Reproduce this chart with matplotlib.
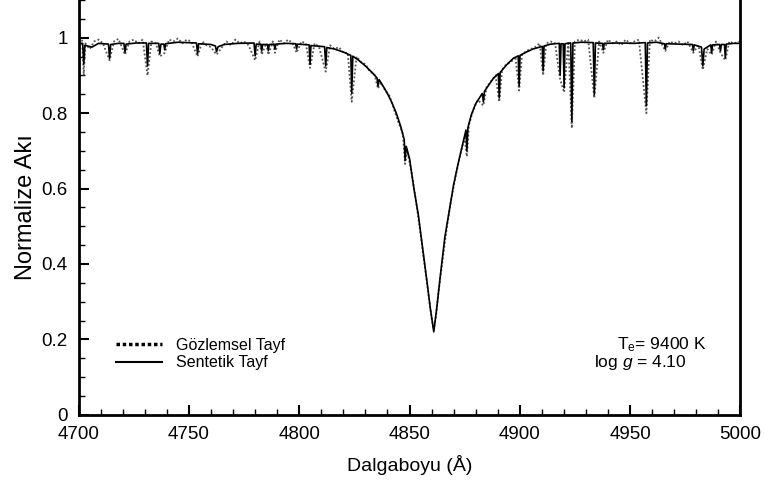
import matplotlib
matplotlib.use('Agg')
import matplotlib.pyplot as plt
from matplotlib.ticker import MultipleLocator

plt.rcParams['font.family'] = ['Liberation Sans', 'DejaVu Sans']
plt.rcParams['mathtext.fontset'] = 'custom'
plt.rcParams['mathtext.rm'] = 'Liberation Sans'
plt.rcParams['mathtext.it'] = 'Liberation Sans:italic'

# synthetic spectrum (wavelength in A, normalized flux)
wl_syn = [4700.0, 4701.8, 4702.3, 4702.8, 4706, 4709, 4713.5, 4714.0, 4714.5, 4718,
          4720.5, 4721.0, 4721.5, 4726, 4730.7, 4731.2, 4731.7, 4736.3, 4736.8, 4737.3,
          4738.6, 4739.0, 4739.4, 4745, 4753.4, 4753.9, 4754.4, 4760, 4762.0, 4762.5,
          4763.2, 4766, 4772, 4779.5, 4780.0, 4780.5, 4782.6, 4783.0, 4783.4, 4785.6,
          4786.0, 4786.4, 4788.6, 4789.0, 4789.4, 4794, 4798.4, 4798.8, 4799.2, 4802,
          4804.5, 4804.9, 4805.3, 4808, 4811.5, 4812.0, 4812.5, 4816, 4820, 4823.4,
          4823.8, 4824.3, 4827, 4830, 4833, 4835.3, 4835.7, 4836.2, 4838, 4840,
          4842, 4844, 4846, 4847.6, 4848.0, 4848.5, 4850, 4852, 4854, 4856,
          4858, 4859.5, 4861.0, 4862.5, 4864, 4866, 4868, 4870, 4872, 4874,
          4875.6, 4876.0, 4876.5, 4878, 4880, 4883.0, 4883.5, 4884.0, 4886, 4888,
          4890.3, 4890.7, 4891.1, 4894, 4897, 4899.3, 4899.7, 4900.1, 4903, 4906,
          4910.2, 4910.6, 4911.0, 4914, 4917.9, 4918.3, 4918.7, 4919.7, 4920.1, 4920.5,
          4923.1, 4923.6, 4924.1, 4928, 4933.3, 4933.8, 4934.3, 4937.5, 4937.9, 4938.3,
          4945, 4952, 4956.9, 4957.4, 4957.9, 4962, 4965.6, 4966.0, 4966.4, 4972,
          4978.3, 4978.7, 4979.1, 4982.4, 4983.0, 4983.6, 4986.6, 4987.0, 4987.4, 4990.6,
          4991.0, 4991.4, 4992.8, 4993.2, 4993.6, 4997, 5000]
flux_syn = [0.985, 0.985, 0.930, 0.980, 0.975, 0.985, 0.983, 0.945, 0.982, 0.985,
            0.985, 0.962, 0.983, 0.986, 0.986, 0.925, 0.985, 0.985, 0.958, 0.983,
            0.983, 0.968, 0.984, 0.988, 0.986, 0.958, 0.984, 0.982, 0.978, 0.963,
            0.976, 0.982, 0.985, 0.986, 0.952, 0.983, 0.983, 0.965, 0.982, 0.982,
            0.966, 0.982, 0.983, 0.970, 0.983, 0.985, 0.984, 0.970, 0.983, 0.982,
            0.981, 0.930, 0.979, 0.978, 0.976, 0.925, 0.974, 0.970, 0.962, 0.953,
            0.853, 0.951, 0.940, 0.925, 0.908, 0.893, 0.872, 0.889, 0.872, 0.852,
            0.828, 0.800, 0.765, 0.730, 0.675, 0.712, 0.680, 0.600, 0.530, 0.440,
            0.350, 0.280, 0.220, 0.290, 0.370, 0.470, 0.540, 0.610, 0.665, 0.715,
            0.755, 0.700, 0.762, 0.795, 0.825, 0.852, 0.830, 0.858, 0.875, 0.892,
            0.905, 0.840, 0.908, 0.928, 0.945, 0.952, 0.872, 0.953, 0.962, 0.970,
            0.977, 0.912, 0.978, 0.983, 0.985, 0.900, 0.984, 0.984, 0.867, 0.984,
            0.986, 0.778, 0.986, 0.988, 0.987, 0.849, 0.986, 0.985, 0.968, 0.985,
            0.986, 0.985, 0.987, 0.820, 0.986, 0.988, 0.984, 0.970, 0.984, 0.983,
            0.982, 0.965, 0.981, 0.975, 0.925, 0.970, 0.981, 0.960, 0.981, 0.982,
            0.965, 0.982, 0.982, 0.947, 0.983, 0.985, 0.985]

# observed spectrum
wl_obs = [4700, 4701.5, 4702.3, 4703, 4705, 4707, 4709, 4711, 4714, 4716,
          4718, 4721, 4723, 4725, 4727, 4729, 4731.2, 4733, 4735, 4736.8,
          4739, 4741, 4743, 4745, 4747, 4749, 4751, 4753.9, 4756, 4758,
          4760, 4762.5, 4765, 4767, 4769, 4771, 4773, 4775, 4777, 4780,
          4782, 4783, 4785, 4786, 4788, 4789, 4791, 4793, 4795, 4797,
          4798.8, 4801, 4803, 4804.9, 4807, 4809, 4812, 4814, 4816, 4818,
          4820, 4822, 4823.8, 4826, 4828, 4830, 4832, 4834, 4835.7, 4837,
          4839, 4841, 4843, 4845, 4847, 4848, 4849, 4851, 4853, 4855,
          4857, 4859, 4860.2, 4861, 4862, 4863, 4865, 4867, 4869, 4871,
          4873, 4875, 4876, 4877, 4879, 4881, 4883.5, 4885, 4887, 4889,
          4890.7, 4892, 4894, 4896, 4898, 4899.7, 4901, 4903, 4905, 4907,
          4909, 4910.6, 4912, 4914, 4916, 4918.3, 4920.1, 4922, 4923.6, 4925,
          4927, 4929, 4931, 4933.8, 4936, 4937.9, 4940, 4942, 4944, 4946,
          4948, 4950, 4952, 4954, 4957.4, 4959, 4961, 4963, 4966, 4968,
          4970, 4972, 4974, 4976, 4978.7, 4981, 4983, 4985, 4987, 4989,
          4991, 4993.2, 4995, 4997, 5000]
flux_obs = [0.990, 0.995, 0.900, 0.985, 0.970, 0.990, 0.995, 0.985, 0.940, 0.990,
            0.997, 0.955, 0.990, 0.995, 0.985, 0.995, 0.900, 0.990, 0.985, 0.950,
            0.960, 0.995, 0.990, 0.998, 0.985, 0.995, 0.990, 0.950, 0.990, 0.980,
            0.975, 0.955, 0.975, 0.990, 0.980, 0.995, 0.985, 0.990, 0.980, 0.940,
            0.990, 0.955, 0.985, 0.955, 0.990, 0.960, 0.995, 0.985, 0.995, 0.985,
            0.960, 0.990, 0.985, 0.920, 0.985, 0.975, 0.910, 0.980, 0.970, 0.975,
            0.960, 0.960, 0.830, 0.950, 0.935, 0.930, 0.910, 0.905, 0.865, 0.880,
            0.860, 0.845, 0.810, 0.775, 0.745, 0.665, 0.700, 0.640, 0.565, 0.480,
            0.390, 0.300, 0.250, 0.225, 0.260, 0.320, 0.410, 0.500, 0.575, 0.635,
            0.690, 0.735, 0.685, 0.770, 0.810, 0.835, 0.820, 0.870, 0.885, 0.900,
            0.830, 0.915, 0.930, 0.935, 0.950, 0.860, 0.955, 0.965, 0.970, 0.975,
            0.985, 0.900, 0.985, 0.990, 0.985, 0.890, 0.855, 0.990, 0.760, 0.990,
            0.995, 0.990, 0.995, 0.840, 0.990, 0.960, 0.995, 0.985, 0.990, 0.980,
            0.995, 0.985, 0.990, 0.995, 0.800, 0.995, 0.990, 1.000, 0.965, 0.990,
            0.985, 0.990, 0.980, 0.990, 0.960, 0.980, 0.915, 0.970, 0.955, 0.990,
            0.960, 0.940, 0.990, 0.985, 0.990]

fig = plt.figure(figsize=(7.64, 4.84), dpi=100)
ax = fig.add_axes([0.103, 0.143, 0.866, 0.857])

ax.plot(wl_obs, flux_obs, color='#555555', linestyle=(0, (1, 1.2)), linewidth=1.3)
ax.plot(wl_syn, flux_syn, color='black', linewidth=1.2)

ax.set_xlim(4700, 5000)
ax.set_ylim(0, 1.1)
ax.xaxis.set_major_locator(MultipleLocator(50))
ax.xaxis.set_minor_locator(MultipleLocator(10))
ax.yaxis.set_minor_locator(MultipleLocator(0.05))
ax.set_yticks([0, 0.2, 0.4, 0.6, 0.8, 1.0])
ax.set_yticklabels(['0', '0.2', '0.4', '0.6', '0.8', '1'])
ax.tick_params(which='major', direction='in', length=7, width=1.5, labelsize=13.5)
ax.tick_params(which='minor', direction='in', length=4, width=1)
ax.tick_params(axis='y', pad=8)
ax.tick_params(axis='x', pad=8)
for s in ['left', 'bottom', 'right']:
    ax.spines[s].set_linewidth(2)
ax.spines['top'].set_visible(False)

ax.set_xlabel('Dalgaboyu (Å)', fontsize=14, labelpad=9)
ax.set_ylabel('Normalize Akı', fontsize=17, labelpad=3)

# legend
lh_obs, = ax.plot([], [], color='black', linestyle=(0, (1, 0.8)), linewidth=2.5)
lh_syn, = ax.plot([], [], color='black', linewidth=1.5)
fig.legend([lh_obs, lh_syn], ['Gözlemsel Tayf', 'Sentetik Tayf'],
           loc='center left', bbox_to_anchor=(116 / 764, 1 - 354 / 484),
           frameon=False, fontsize=11.5, handlelength=2.9, handletextpad=0.85,
           labelspacing=0.15, borderpad=0, borderaxespad=0)

fig.text(707 / 764, 1 - 345 / 484, r'T$_{\mathrm{e}}$= 9400 K', ha='right',
         va='center', fontsize=12.5)
fig.text(687 / 764, 1 - 363 / 484, r'log $g$ = 4.10', ha='right',
         va='center', fontsize=12.5)

fig.savefig('out.png', dpi=100)
